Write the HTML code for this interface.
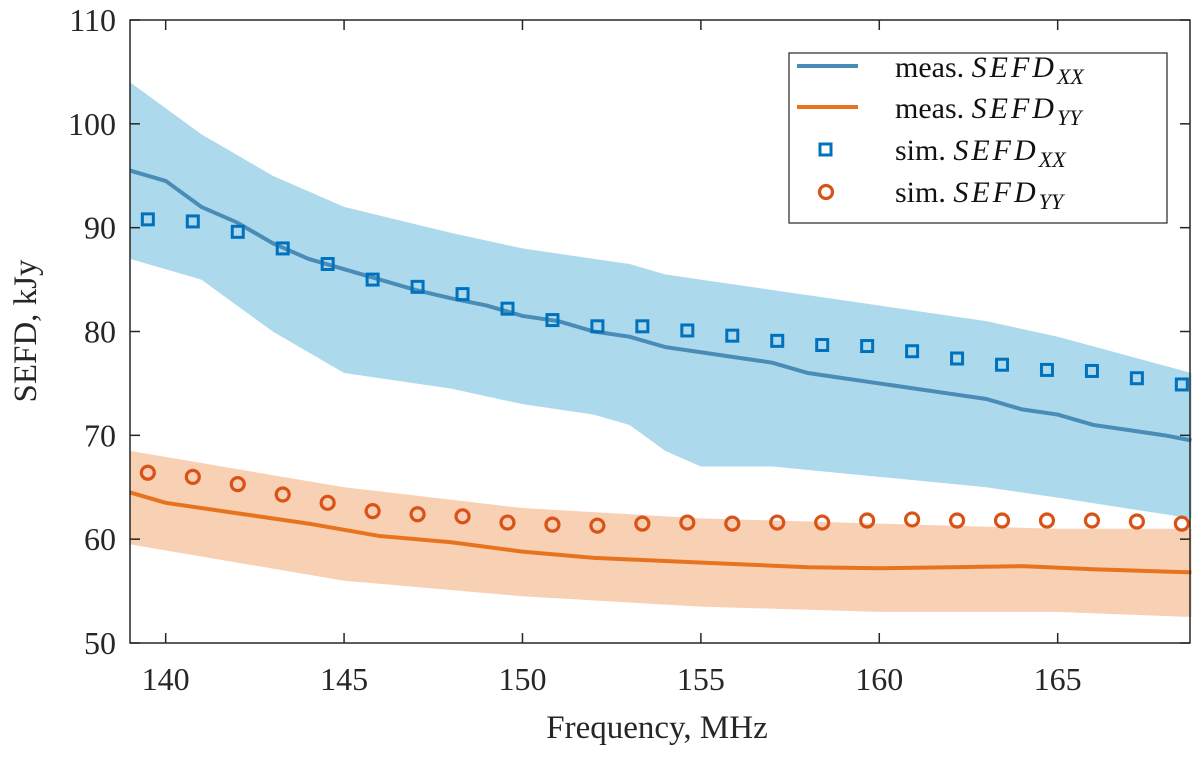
<!DOCTYPE html>
<html><head><meta charset="utf-8"><style>
body{margin:0;background:#fff;}
svg{display:block;font-family:"Liberation Serif",serif;}
</style></head><body>
<svg id="chart" width="1200" height="757"></svg>
<script>
const xTicks=[140,145,150,155,160,165];
const yTicks=[50,60,70,80,90,100,110];
const simFreq=[139.5,140.76,142.02,143.28,144.54,145.8,147.06,148.32,149.58,150.84,152.1,153.36,154.62,155.88,157.14,158.4,159.66,160.92,162.18,163.44,164.7,165.96,167.22,168.48];
const simXX=[90.8,90.6,89.6,88,86.5,85,84.3,83.6,82.2,81.1,80.5,80.5,80.1,79.6,79.1,78.7,78.6,78.1,77.4,76.8,76.3,76.2,75.5,74.9];
const simYY=[66.4,66,65.3,64.3,63.5,62.7,62.4,62.2,61.6,61.4,61.3,61.5,61.6,61.5,61.6,61.6,61.8,61.9,61.8,61.8,61.8,61.8,61.7,61.5];
const measFreqXX=[139,140,141,142,143,144,145,146,147,148,149,150,151,152,153,154,155,156,157,158,159,160,161,162,163,164,165,166,167,168,168.75];
const measXX=[95.5,94.5,92,90.5,88.5,87,86,85,84,83.2,82.5,81.5,81,80,79.5,78.5,78,77.5,77,76,75.5,75,74.5,74,73.5,72.5,72,71,70.5,70,69.5];
const bandFreqXX=[139,141,143,145,148,150,152,153,154,155,157,160,163,165,168.75];
const bandUpXX=[104,99,95,92,89.5,88,87,86.5,85.5,85,84,82.5,81,79.5,76];
const bandLoXX=[87,85,80,76,74.5,73,72,71,68.5,67,67,66,65,64,62];
const measFreqYY=[139,140,142,144,146,148,150,152,154,156,158,160,162,164,166,168.75];
const measYY=[64.5,63.5,62.5,61.5,60.3,59.7,58.8,58.2,57.9,57.6,57.3,57.2,57.3,57.4,57.1,56.8];
const bandFreqYY=[139,145,150,155,160,165,168.75];
const bandUpYY=[68.5,65,63,62,61.5,61,61];
const bandLoYY=[59.5,56,54.5,53.5,53,53,52.5];

const L=130,R=1190,T=20,B=643;
const X=f=>L+(f-139.0)*35.68;
const Y=v=>B-(v-50)*(B-T)/60;
const NS='http://www.w3.org/2000/svg';
const svg=document.getElementById('chart');
function el(t,a,p){const e=document.createElementNS(NS,t);for(const k in a)e.setAttribute(k,a[k]);(p||svg).appendChild(e);return e;}

function band(fr,up,lo,color,name){
  let d='M'+fr.map((f,i)=>X(f)+','+Y(up[i])).join('L');
  for(let i=fr.length-1;i>=0;i--)d+='L'+X(fr[i])+','+Y(lo[i]);
  const e=el('path',{d:d+'Z',fill:color,stroke:'none'});
  
  
}
band(bandFreqXX,bandUpXX,bandLoXX,'#acdaec','band-xx');
band(bandFreqYY,bandUpYY,bandLoYY,'#f8d0b4','band-yy');
function line(fr,v,color,name){
  const e=el('polyline',{points:fr.map((f,i)=>X(f)+','+Y(v[i])).join(' '),fill:'none',stroke:color,'stroke-width':4});
  
  
}
line(measFreqXX,measXX,'#4a8cb8','meas-xx-line');
line(measFreqYY,measYY,'#e8731f','meas-yy-line');
simFreq.forEach((f,i)=>{
  const s=el('rect',{x:X(f)-5.5,y:Y(simXX[i])-5.5,width:11,height:11,fill:'none',stroke:'#0072bd','stroke-width':3});
  
  
  const c=el('circle',{cx:X(f),cy:Y(simYY[i]),r:6.5,fill:'none',stroke:'#d95319','stroke-width':3.2});
  
  
});
const box=el('rect',{x:L,y:T,width:R-L,height:B-T,fill:'none',stroke:'#262626','stroke-width':1.5});


xTicks.forEach(t=>{
  el('line',{x1:X(t),x2:X(t),y1:B,y2:B-10,stroke:'#262626','stroke-width':1.5});
  el('line',{x1:X(t),x2:X(t),y1:T,y2:T+10,stroke:'#262626','stroke-width':1.5});
  const tx=el('text',{x:X(t),y:B+47,'font-size':32,'text-anchor':'middle',fill:'#262626'});
  tx.textContent=t;
  
  
});
yTicks.forEach(t=>{
  el('line',{x1:L,x2:L+10,y1:Y(t),y2:Y(t),stroke:'#262626','stroke-width':1.5});
  el('line',{x1:R,x2:R-10,y1:Y(t),y2:Y(t),stroke:'#262626','stroke-width':1.5});
  const tx=el('text',{x:L-14,y:Y(t)+11,'font-size':32,'text-anchor':'end',fill:'#262626'});
  tx.textContent=t;
  
  
});
</script>
<svg width="1200" height="757" style="position:absolute;left:0;top:0;font-family:'Liberation Serif',serif">
<text x="657" y="738" font-size="33" text-anchor="middle" fill="#262626">Frequency, MHz</text>
<text transform="translate(36,331) rotate(-90)" font-size="33" text-anchor="middle" fill="#262626">SEFD, kJy</text>
<g>
<rect x="789" y="53" width="378" height="170" fill="#fff" stroke="#262626" stroke-width="1.2"/>
<line x1="797" y1="66" x2="858" y2="66" stroke="#4a8cb8" stroke-width="4"/>
<line x1="797" y1="107" x2="858" y2="107" stroke="#e8731f" stroke-width="4"/>
<rect x="820" y="144" width="11" height="11" fill="none" stroke="#0072bd" stroke-width="3"/>
<circle cx="826" cy="192" r="6.5" fill="none" stroke="#d95319" stroke-width="3.2"/>
<text x="895" y="77" font-size="30" fill="#111">meas. <tspan font-style="italic" letter-spacing="3">SEFD</tspan><tspan font-style="italic" font-size="22" dy="7">XX</tspan></text>
<text x="895" y="118" font-size="30" fill="#111">meas. <tspan font-style="italic" letter-spacing="3">SEFD</tspan><tspan font-style="italic" font-size="22" dy="7">YY</tspan></text>
<text x="895" y="160" font-size="30" fill="#111">sim. <tspan font-style="italic" letter-spacing="3">SEFD</tspan><tspan font-style="italic" font-size="22" dy="7">XX</tspan></text>
<text x="895" y="202" font-size="30" fill="#111">sim. <tspan font-style="italic" letter-spacing="3">SEFD</tspan><tspan font-style="italic" font-size="22" dy="7">YY</tspan></text>
</g>
</svg>
</body></html>
